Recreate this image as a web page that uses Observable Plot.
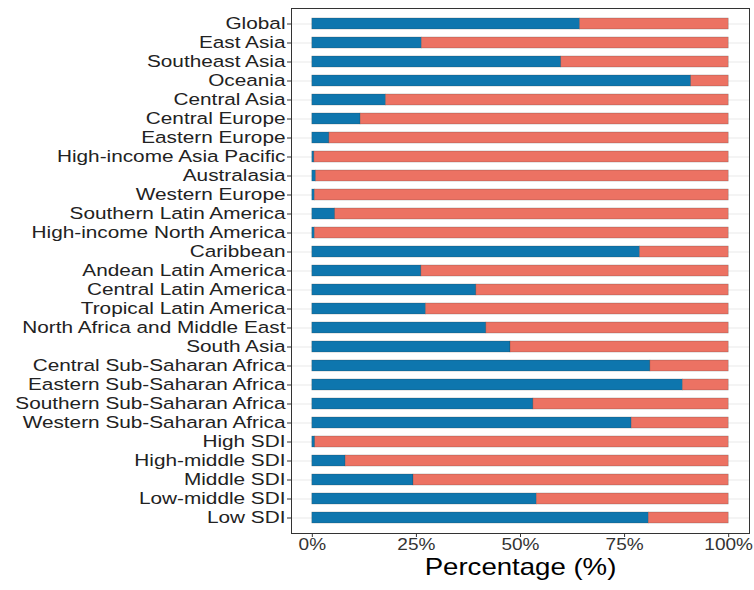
<!DOCTYPE html>
<html><head><meta charset="utf-8">
<script src="https://cdn.jsdelivr.net/npm/d3@7"></script>
<script src="https://cdn.jsdelivr.net/npm/@observablehq/plot@0.6"></script>
<style>body{margin:0;background:#fff}</style>
</head><body><div id="chart"></div>
<script>
const regions = ["Global","East Asia","Southeast Asia","Oceania","Central Asia","Central Europe","Eastern Europe","High-income Asia Pacific","Australasia","Western Europe","Southern Latin America","High-income North America","Caribbean","Andean Latin America","Central Latin America","Tropical Latin America","North Africa and Middle East","South Asia","Central Sub-Saharan Africa","Eastern Sub-Saharan Africa","Southern Sub-Saharan Africa","Western Sub-Saharan Africa","High SDI","High-middle SDI","Middle SDI","Low-middle SDI","Low SDI"];
const blueShare = [0.643,0.263,0.598,0.910,0.177,0.116,0.041,0.005,0.009,0.006,0.055,0.006,0.787,0.262,0.394,0.273,0.418,0.476,0.812,0.890,0.531,0.767,0.007,0.080,0.243,0.539,0.808];
const redShare  = [0.357,0.737,0.402,0.090,0.823,0.884,0.959,0.995,0.991,0.994,0.945,0.994,0.213,0.738,0.606,0.727,0.582,0.524,0.188,0.110,0.469,0.233,0.993,0.920,0.757,0.461,0.192];
const seriesNames = ["Series A","Series B"];
const xTicks = [0,0.25,0.5,0.75,1];
const xTickLabels = ["0%","25%","50%","75%","100%"];
const xTitle = "Percentage (%)";

const rows = [];
regions.forEach((r,i)=>{
  rows.push({region:r, series:seriesNames[0], value:blueShare[i]});
  rows.push({region:r, series:seriesNames[1], value:redShare[i]});
});

const FONT = "'Liberation Sans', Arial, Helvetica, sans-serif";
const chart = Plot.plot({
  width:754, height:590, marginLeft:291, marginRight:5, marginTop:8, marginBottom:57,
  style:{fontFamily:FONT, background:"#fff", color:"#333", overflow:"visible"},
  x:{domain:[-0.05,1.05], ticks:xTicks, tickFormat:()=>"", tickSize:4, label:null},
  y:{domain:regions, paddingInner:0.43, paddingOuter:0.315, tickFormat:()=>"", tickSize:4, label:null, grid:true},
  color:{domain:seriesNames, range:["#0E76AE","#EC7263"]},
  marks:[
    Plot.barX(rows, {y:"region", x:"value", fill:"series", stroke:"#333", strokeWidth:0.5, strokeOpacity:0.45}),
    Plot.frame({stroke:"#333"}),
    Plot.text(regions, {y:d=>d, text:d=>d, frameAnchor:"left", textAnchor:"end", dx:-6, fontSize:16.5, fill:"#222"}),
    Plot.text(xTicks, {x:d=>d, text:(d,i)=>xTickLabels[i], frameAnchor:"bottom", dy:16.6, fontSize:17, fill:"#333"}),
    Plot.text([xTitle], {text:d=>d, frameAnchor:"bottom", dy:41.6, fontSize:23, fill:"#000"})
  ]
});
document.getElementById("chart").appendChild(chart);

function stretchTexts(set, s){
  d3.select(chart).selectAll("text").each(function(){
    if (!set.has(this.textContent)) return;
    const t = d3.select(this);
    const tr = t.attr("transform") || "";
    const xa = t.attr("x");
    let x = 0;
    if (xa != null && !isNaN(+xa)) { x = +xa; t.attr("x", null); }
    t.attr("transform", `${tr} translate(${x},0) scale(${s},1)`);
  });
}
stretchTexts(new Set(regions), 1.26);
stretchTexts(new Set(xTickLabels), 1.12);
stretchTexts(new Set([xTitle]), 1.2);
</script>
</body></html>
